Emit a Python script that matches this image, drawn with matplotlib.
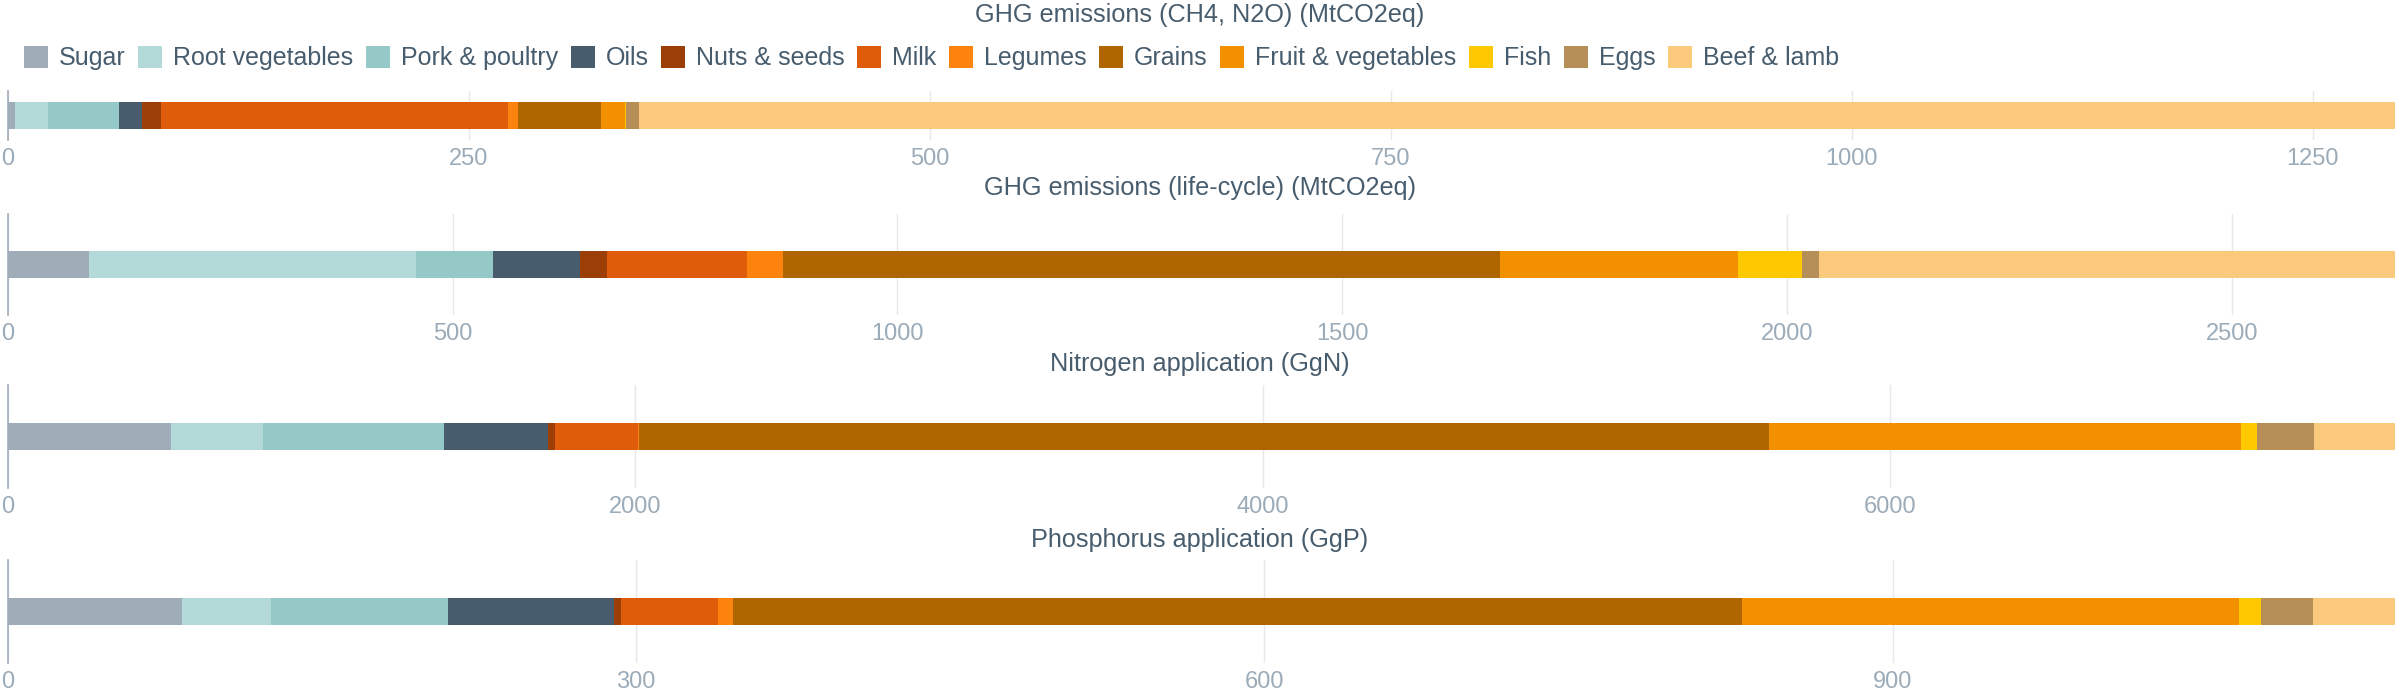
import matplotlib.pyplot as plt
import numpy as np
from matplotlib.ticker import MultipleLocator

categories = ["Sugar", "Root vegetables", "Pork & poultry", "Oils", "Nuts & seeds", "Milk",
              "Legumes", "Grains", "Fruit & vegetables", "Fish", "Eggs", "Beef & lamb"]
colors = ["#a0adb9", "#b3dad8", "#95c9c8", "#475c6d", "#9c3f06", "#de5c0a",
          "#fd830f", "#af6600", "#f29000", "#fec900", "#b68f58", "#fbc97c"]

titles = ["GHG emissions (CH4, N2O) (MtCO2eq)", "GHG emissions (life-cycle) (MtCO2eq)",
          "Nitrogen application (GgN)", "Phosphorus application (GgP)"]

ghg_direct = [4.2, 17.4, 39, 12.5, 10, 188, 5.8, 45, 13, 0.5, 7, 952]
ghg_lifecycle = [91, 368, 87, 97, 31, 157.5, 40.5, 805, 268, 72, 19, 647]
nitrogen = [520, 295, 576, 332, 22, 265, 2, 3600, 1505, 51, 183, 256]
phosphorus = [83.3, 42.4, 84.4, 79.3, 3.3, 46.4, 7.3, 481.6, 237.5, 10.2, 24.8, 39.1]

series = [ghg_direct, ghg_lifecycle, nitrogen, phosphorus]
tick_steps = [250, 500, 2000, 300]

TEXT = "#475c6d"
TICK = "#9cabb8"
GRID = "#e8e8e8"

plt.rcParams['font.family'] = ['Liberation Sans', 'DejaVu Sans']

W, H = 2400, 700
fig = plt.figure(figsize=(W / 100, H / 100), dpi=100)

# panel boxes in pixels: (top, bottom)
panels = [(91, 140), (214, 315), (385, 488), (560, 663)]
title_y = [15, 188, 364, 540]
left_px, right_px = 7.7, 2394.5
bar_px = 27

for i, values in enumerate(series):
    top, bottom = panels[i]
    ax = fig.add_axes([left_px / W, 1 - bottom / H, (right_px - left_px) / W, (bottom - top) / H])
    h = bar_px / (bottom - top)
    start = 0
    for v, c, name in zip(values, colors, categories):
        ax.barh(0, v, left=start, height=h, color=c, label=name, linewidth=0)
        start += v
    ax.set_xlim(0, start)
    ax.set_ylim(-0.5, 0.5)
    ax.xaxis.set_major_locator(MultipleLocator(tick_steps[i]))
    ax.set_yticks([])
    ax.set_axisbelow(True)
    ax.grid(axis='x', color=GRID, linewidth=1)
    for s in ['top', 'right', 'bottom']:
        ax.spines[s].set_visible(False)
    ax.spines['left'].set_color("#a0adb9")
    ax.spines['left'].set_linewidth(1.2)
    ax.tick_params(axis='x', length=0, pad=6, labelsize=17, labelcolor=TICK)
    ax.patch.set_alpha(0)

    fig.text(0.5, 1 - title_y[i] / H, titles[i], ha='center', va='center', fontsize=18.2, color=TEXT)

    if i == 0:
        handles, labels = ax.get_legend_handles_labels()

fig.legend(handles, labels, loc='center left', bbox_to_anchor=(24 / W, 1 - 58 / H), ncol=12,
           frameon=False, fontsize=18, handlelength=0.96, handleheight=0.96, handletextpad=0.44,
           columnspacing=0.5, borderpad=0, borderaxespad=0, labelcolor=TEXT)

fig.savefig("out.png", dpi=100)
